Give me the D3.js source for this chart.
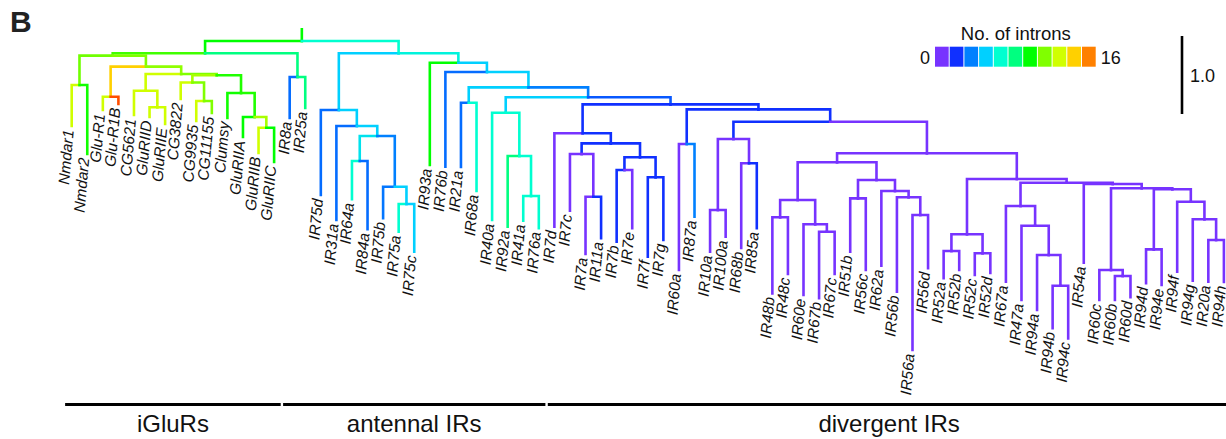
<!DOCTYPE html>
<html>
<head>
<meta charset="utf-8">
<script src="https://cdn.jsdelivr.net/npm/d3@7"></script>
<style>
  body { margin: 0; background: #fff; }
  svg { display: block; font-family: "Liberation Sans", Arial, sans-serif; }
</style>
</head>
<body>
<div id="chart"></div>
<script>
// rows: [node, parent, depth from root (scale-bar units), no. of introns on the branch]
const rootRows = [["root", "", 0, 9.6]];

const iglurRows = [
    ["A", "root", 0.158, 9.6],
    ["B", "A", 0.188, 10.4],
    ["N1", "B", 0.564, 11],
    ["Nmdar1", "N1", 1.09, 12.8],
    ["Nmdar2", "N1", 1.449, 9.8],
    ["B2", "B", 0.329, 11.2],
    ["GR", "B2", 0.714, 14.4],
    ["Glu-R1", "GR", 0.885, 12.8],
    ["Glu-R1B", "GR", 0.808, 17],
    ["B3", "B2", 0.423, 11.5],
    ["B4", "B3", 0.637, 12.8],
    ["CG5621", "B4", 0.949, 12.8],
    ["B5", "B4", 0.85, 12.8],
    ["GluRIID", "B5", 0.974, 12.8],
    ["GluRIIE", "B5", 1.064, 12.8],
    ["B6", "B3", 0.44, 11.2],
    ["B7", "B6", 0.532, 12],
    ["CG3822", "B7", 0.744, 12.8],
    ["B8", "B7", 0.769, 11.2],
    ["CG9935", "B8", 1.026, 12.8],
    ["CG11155", "B8", 0.923, 11.2],
    ["B9", "B6", 0.667, 10],
    ["Clumsy", "B9", 0.987, 9.8],
    ["B10", "B9", 0.974, 10],
    ["GluRIIA", "B10", 1.231, 9.6],
    ["B11", "B10", 1.112, 12],
    ["GluRIIB", "B11", 1.436, 12.8],
    ["GluRIIC", "B11", 1.551, 9.6],
    ["C", "A", 0.462, 8],
    ["IR8a", "C", 0.987, 2.8],
    ["IR25a", "C", 0.859, 8]
];

const antennalRows = [
    ["D", "root", 0.158, 6.4],
    ["E", "D", 0.885, 4.8],
    ["IR75d", "E", 1.974, 2.8],
    ["E2", "E", 1.09, 4.8],
    ["IR31a", "E2", 2.295, 2.8],
    ["E3", "E2", 1.218, 4.8],
    ["E4", "E3", 1.538, 5.4],
    ["IR64a", "E4", 2.029, 6.4],
    ["IR84a", "E4", 2.414, 2.8],
    ["E5", "E3", 1.868, 3.2],
    ["IR75b", "E5", 2.273, 3],
    ["E6", "E5", 2.09, 4.8],
    ["IR75a", "E6", 2.445, 6.4],
    ["IR75c", "E6", 2.701, 4.8],
    ["F", "D", 0.278, 6],
    ["IR93a", "F", 1.59, 9.6],
    ["F2", "F", 0.397, 4.8],
    ["IR76b", "F2", 1.612, 2.8],
    ["F3", "F2", 0.594, 4.8],
    ["F4", "F3", 0.791, 4.8],
    ["IR21a", "F4", 1.615, 2.8],
    ["IR68a", "F4", 1.923, 6.4],
    ["F5", "F3", 0.722, 3.2],
    ["F6", "F5", 0.919, 4.8],
    ["IR40a", "F6", 2.295, 6.4],
    ["F7", "F6", 1.474, 6.4],
    ["IR92a", "F7", 2.381, 8],
    ["F8", "F7", 1.987, 6.4],
    ["IR41a", "F8", 2.304, 6.4],
    ["IR76a", "F8", 2.401, 6.4]
];

const divergentRows = [
    ["G", "F5", 0.812, 2.4],
    ["H", "G", 1.183, 1.6],
    ["IR7d", "H", 2.381, 0],
    ["H2", "H", 1.312, 1.6],
    ["H3", "H2", 1.449, 1.6],
    ["IR7c", "H3", 2.176, 0],
    ["H4", "H3", 1.996, 0],
    ["IR7a", "H4", 2.731, 0],
    ["IR11a", "H4", 2.529, 1.6],
    ["H5", "H2", 1.491, 1.6],
    ["H6", "H5", 1.654, 1.6],
    ["IR7b", "H6", 2.573, 1.6],
    ["IR7e", "H6", 2.401, 0],
    ["H7", "H5", 1.747, 1.6],
    ["IR7f", "H7", 2.765, 1.6],
    ["IR7g", "H7", 2.551, 1.6],
    ["I", "G", 0.876, 1.6],
    ["J", "I", 1.321, 1.6],
    ["IR60a", "J", 2.936, 0],
    ["IR87a", "J", 2.253, 3.2],
    ["K", "I", 1.035, 1.6],
    ["L", "K", 1.256, 1.6],
    ["L1", "L", 2.167, 0],
    ["IR10a", "L1", 2.701, 0],
    ["IR100a", "L1", 2.509, 0],
    ["L2", "L", 1.568, 0],
    ["IR68b", "L2", 2.654, 0],
    ["IR85a", "L2", 2.401, 1.6],
    ["M", "K", 1.44, 0],
    ["M1", "M", 1.555, 0],
    ["M2", "M1", 2.038, 0],
    ["M3", "M2", 2.26, 0],
    ["IR48b", "M3", 3.235, 0],
    ["IR48c", "M3", 2.987, 0],
    ["M4", "M2", 2.35, 0],
    ["IR60e", "M4", 3.256, 0],
    ["M5", "M4", 2.445, 0],
    ["IR67b", "M5", 3.299, 0],
    ["IR67c", "M5", 2.987, 0],
    ["M6", "M1", 1.782, 0],
    ["M7", "M6", 2.017, 0],
    ["IR51b", "M7", 2.701, 0],
    ["IR56c", "M7", 2.936, 0],
    ["M8", "M6", 1.923, 0],
    ["IR62a", "M8", 2.881, 0],
    ["M9", "M8", 2.004, 0],
    ["IR56b", "M9", 3.214, 0],
    ["M10", "M9", 2.231, 0],
    ["IR56a", "M10", 3.962, 0],
    ["IR56d", "M10", 2.914, 0],
    ["P", "M", 1.769, 0],
    ["P1", "P", 2.478, 0],
    ["P2", "P1", 2.692, 0],
    ["IR52a", "P2", 3.042, 0],
    ["IR52b", "P2", 2.936, 0],
    ["P3", "P1", 2.722, 0],
    ["IR52c", "P3", 3.0, 0],
    ["IR52d", "P3", 2.974, 0],
    ["P4", "P", 1.817, 0],
    ["P5", "P4", 2.115, 0],
    ["IR67a", "P5", 3.086, 0],
    ["P9", "P5", 2.368, 0],
    ["IR47a", "P9", 3.321, 0],
    ["P10", "P9", 2.744, 0],
    ["IR94a", "P10", 3.449, 0],
    ["P11", "P10", 3.137, 0],
    ["IR94b", "P11", 3.683, 0],
    ["IR94c", "P11", 3.812, 0],
    ["Q", "P4", 1.833, 0],
    ["IR54a", "Q", 2.842, 0],
    ["P6", "Q", 1.888, 0],
    ["P7", "P6", 2.936, 0],
    ["IR60c", "P7", 3.321, 0],
    ["P8", "P7", 3.013, 0],
    ["IR60b", "P8", 3.321, 0],
    ["IR60d", "P8", 3.286, 0],
    ["R", "P6", 1.901, 0],
    ["R1", "R", 2.671, 0],
    ["IR94d", "R1", 3.106, 0],
    ["IR94e", "R1", 3.128, 0],
    ["R2", "R", 2.06, 0],
    ["IR94f", "R2", 2.958, 0],
    ["R3", "R2", 2.286, 0],
    ["IR94g", "R3", 3.073, 0],
    ["R4", "R3", 2.551, 0],
    ["IR20a", "R4", 3.086, 0],
    ["IR94h", "R4", 3.09, 0]
];

const groupNames = ["iGluRs", "antennal IRs", "divergent IRs"];
const groupFirst = ["Nmdar1", "IR8a", "IR7d"];
const groupLast = ["GluRIIC", "IR76a", "IR94h"];

const intronColors = ["#7733ff", "#1030ff", "#0080ff", "#00d0ff", "#00ffd0", "#00ff80",
                      "#00ff00", "#80ff00", "#d0ff00", "#ffd000", "#ff8000"];
const intronRange = [0, 16];
const scaleBarValue = 1.0;
const rootStub = 0.15;


const width = 1226;
const height = 439;

const svg = d3.select("#chart")
    .append("svg")
    .attr("width", width)
    .attr("height", height);

svg.append("rect").attr("width", width).attr("height", height).attr("fill", "#fff");

/* building the tree */

const root = d3.stratify()
    .id(function(d) { return d[0]; })
    .parentId(function(d) { return d[1]; })
    (rootRows.concat(iglurRows, antennalRows, divergentRows));

const leaves = root.leaves();

const xScale = d3.scalePoint()
    .domain(leaves.map(function(d) { return d.id; }))
    .range([71.7, 1223.9]);

const yScale = d3.scaleLinear()
    .domain([0, 1])
    .range([41, 119]);

const colorStops = intronColors.map(function(c, i) {
    return intronRange[0] + i * (intronRange[1] - intronRange[0]) / (intronColors.length - 1);
});
const colorScale = d3.scaleLinear()
    .domain(colorStops)
    .range(intronColors)
    .interpolate(d3.interpolateRgb);

root.eachAfter(function(d) {
    d.x = d.children ? d3.mean(d.children, function(c) { return c.x; }) : xScale(d.id);
    d.y = yScale(d.data[2]);
});

/* branches */

const branches = svg.append("g")
    .attr("fill", "none")
    .attr("stroke-width", 2.6)
    .attr("stroke-linecap", "square");

branches.append("path")
    .attr("d", `M${root.x},${yScale(-rootStub)}V${root.y}`)
    .attr("stroke", colorScale(root.data[3]));

branches.selectAll("path.branch")
    .data(root.descendants().slice(1))
    .enter()
    .append("path")
        .attr("class", "branch")
        .attr("d", function(d) { return `M${d.parent.x},${d.parent.y}H${d.x}V${d.y}`; })
        .attr("stroke", function(d) { return colorScale(d.data[3]); });

/* leaf labels */

svg.append("g")
    .selectAll("text")
    .data(leaves)
    .enter()
    .append("text")
        .attr("transform", function(d) { return `translate(${d.x + 0.5},${d.y + 4}) rotate(-85)`; })
        .attr("text-anchor", "end")
        .attr("dy", "0.1em")
        .attr("font-size", 15.5)
        .attr("font-style", "italic")
        .attr("fill", "#111")
        .text(function(d) { return d.id; });

/* group bars */

const step = xScale.step();
groupNames.forEach(function(name, i) {
    const x0 = xScale(groupFirst[i]) - step / 2 + 1.2;
    const x1 = xScale(groupLast[i]) + step / 2 - 1.2;
    svg.append("line")
        .attr("x1", x0).attr("x2", x1)
        .attr("y1", 404.5).attr("y2", 404.5)
        .attr("stroke", "#000")
        .attr("stroke-width", 3);
    svg.append("text")
        .attr("x", (x0 + x1) / 2)
        .attr("y", 432)
        .attr("text-anchor", "middle")
        .attr("font-size", 24)
        .attr("fill", "#111")
        .text(name);
});

/* legend */

const legend = svg.append("g").attr("transform", "translate(935,46.7)");
const boxW = 14.7;

legend.selectAll("rect")
    .data(intronColors)
    .enter()
    .append("rect")
        .attr("x", function(d, i) { return i * boxW; })
        .attr("width", boxW - 1)
        .attr("height", 20)
        .attr("fill", function(d, i) { return colorScale(colorStops[i]); });

legend.append("text")
    .attr("x", intronColors.length * boxW / 2)
    .attr("y", -6.7)
    .attr("text-anchor", "middle")
    .attr("font-size", 18.5)
    .attr("fill", "#111")
    .text("No. of introns");

legend.append("text")
    .attr("x", -5)
    .attr("y", 17)
    .attr("text-anchor", "end")
    .attr("font-size", 18)
    .attr("fill", "#111")
    .text(intronRange[0]);

legend.append("text")
    .attr("x", intronColors.length * boxW + 4)
    .attr("y", 17)
    .attr("font-size", 18)
    .attr("fill", "#111")
    .text(intronRange[1]);

/* scale bar */

const barLen = yScale(scaleBarValue) - yScale(0);
svg.append("line")
    .attr("x1", 1182).attr("x2", 1182)
    .attr("y1", 36).attr("y2", 36 + barLen)
    .attr("stroke", "#000")
    .attr("stroke-width", 2.6);

svg.append("text")
    .attr("x", 1190)
    .attr("y", 36 + barLen / 2 + 6.5)
    .attr("font-size", 18)
    .attr("fill", "#111")
    .text(d3.format(".1f")(scaleBarValue));

/* panel letter */

svg.append("text")
    .attr("x", 10)
    .attr("y", 32)
    .attr("font-size", 30)
    .attr("font-weight", "bold")
    .attr("fill", "#222")
    .text("B");

</script>
</body>
</html>
